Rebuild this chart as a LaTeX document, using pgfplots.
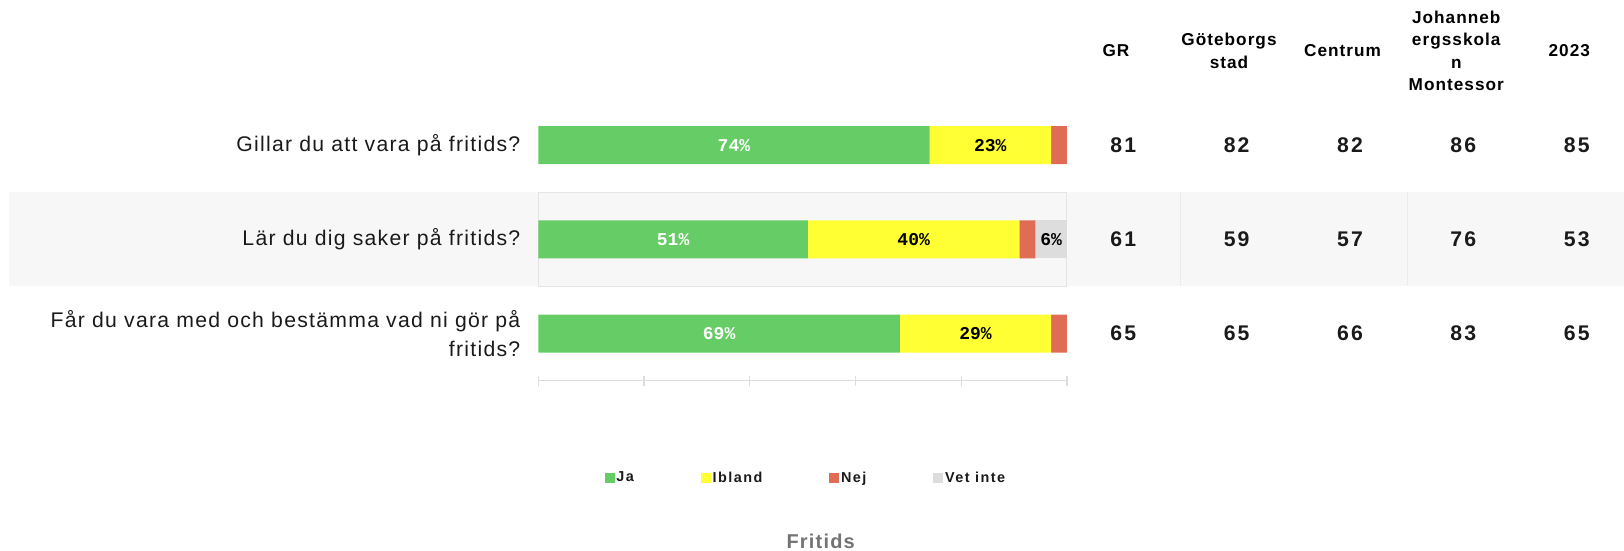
\documentclass[border=0pt]{standalone}
\usepackage{fontspec}
\setmainfont{Liberation Sans}
\newfontfamily\labfont[LetterSpace=6]{Liberation Sans}
\newfontfamily\hdrfont[LetterSpace=6]{Liberation Sans}
\newfontfamily\valfont[LetterSpace=10]{Liberation Sans}
\newfontfamily\pctfont{Liberation Mono}
\newfontfamily\legfont[LetterSpace=10]{Liberation Sans}
\newfontfamily\ttlfont[LetterSpace=6]{Liberation Sans}
\usepackage{pgfplots}
\usepackage{pgfplotstable}
\pgfplotsset{compat=1.18}
\definecolor{cJa}{HTML}{66CC66}
\definecolor{cIb}{HTML}{FFFF33}
\definecolor{cNej}{HTML}{E06C55}
\definecolor{cVet}{HTML}{DDDDDD}
\definecolor{bandc}{HTML}{F7F7F7}
\definecolor{bordc}{HTML}{E4E4E4}
\definecolor{tickc}{HTML}{DDDDDD}
\definecolor{ttlc}{HTML}{737373}
\definecolor{txtc}{HTML}{1A1A1A}

% bar lengths (ja ibland nej vet) and the printed labels (jaL ...)
\pgfplotstableread{
row ja ibland nej vet jaL iblandL nejL vetL
2 74 23 3 0 74 23 3 0
1 51 40 3 6 51 40 3 6
0 68.4 28.6 3.0 0 69 29 3 0
}\bardata

\pgfplotstableread{
x y v
110.65 2 81
132.10 2 82
153.53 2 82
174.96 2 86
196.41 2 85
110.65 1 61
132.10 1 59
153.53 1 57
174.96 1 76
196.41 1 53
110.65 0 65
132.10 0 65
153.53 0 66
174.96 0 83
196.41 0 65
}\tabdata

\newcommand\pctlab{\ifdim\pgfplotspointmeta pt>4pt \pgfplotspointmeta\%\fi}

\begin{document}
\begin{tikzpicture}
\useasboundingbox (-269.15pt,-85.15pt) rectangle (542.85pt,190.35pt);
% background: band, borders, table values, headers
\begin{axis}[
  at={(0pt,0pt)}, anchor=south west,
  scale only axis, width=264.35pt, height=141.3pt,
  xmin=0, xmax=100, ymin=-0.5, ymax=2.5,
  hide axis, clip=false,
]
\fill[bandc] (axis cs:-100.1,0.5) rectangle (axis cs:215,1.5);
\draw[bordc, line width=0.5pt] (axis cs:0,0.5) rectangle (axis cs:100,1.5);
\draw[bordc!70, line width=0.5pt] (axis cs:121.5,0.5) -- (axis cs:121.5,1.5);
\draw[bordc!70, line width=0.5pt] (axis cs:164.37,0.5) -- (axis cs:164.37,1.5);
\addplot[only marks, mark=none, nodes near coords, point meta=explicit symbolic,
  every node near coord/.append style={font=\valfont\bfseries\fontsize{10.6}{12}\selectfont, text=txtc, anchor=center, inner sep=0pt}]
  table[x=x, y=y, meta=v] \tabdata;
\begin{scope}[every node/.style={font=\hdrfont\bfseries\fontsize{8.6}{11.25}\selectfont, align=center, anchor=center, inner sep=0pt, text=black}]
\node at (axis cs:109.27,3) {GR};
\node at (axis cs:130.64,3) {Göteborgs\\stad};
\node at (axis cs:152.13,3) {Centrum};
\node at (axis cs:173.63,3) {Johanneb\\ergsskola\\n\\Montessor};
\node at (axis cs:195.0,3) {2023};
\end{scope}
\end{axis}
% stacked bars
\begin{axis}[
  at={(0pt,0pt)}, anchor=south west,
  scale only axis, width=264.35pt, height=141.3pt,
  xbar stacked, bar width=19pt,
  xmin=0, xmax=100, ymin=-0.5, ymax=2.5,
  axis x line*=bottom, axis y line*=left,
  y axis line style={draw=none},
  x axis line style={draw=tickc, line width=0.7pt},
  xtick={0,20,40,60,80,100}, xticklabels={},
  xtick style={draw=tickc, line width=0.7pt},
  tick align=center, major tick length=5pt,
  ytick={0,1,2},
  yticklabels={{Får du vara med och bestämma vad ni gör på\\fritids?},{Lär du dig saker på fritids?},{Gillar du att vara på fritids?}},
  ytick style={draw=none},
  yticklabel style={align=right, inner sep=0pt, xshift=-6.3pt, font=\labfont\fontsize{10.6}{14.5}\selectfont, text=txtc},
  point meta=explicit symbolic,
  nodes near coords={\pctlab},
  every node near coord/.append style={anchor=center, inner sep=0pt, font=\pctfont\bfseries\fontsize{9}{10}\selectfont},
  legend columns=4,
  legend style={at={(axis description cs:0.1248,-0.3454)}, anchor=west, draw=none, fill=none, inner sep=0pt,
    font=\legfont\bfseries\fontsize{7.2}{8}\selectfont, text=txtc,
    nodes={inner sep=0pt},
    /tikz/every odd column/.append style={column sep=0.9pt},
    /tikz/every even column/.append style={column sep=33.5pt}},
  xlabel={Fritids},
  xlabel style={at={(axis description cs:0.5341,-0.5931)}, anchor=base, inner sep=0pt, font=\ttlfont\bfseries\fontsize{10}{12}\selectfont, text=ttlc},
  clip=false,
]
\addplot[fill=cJa, draw=none,
  every node near coord/.append style={text=white},
  legend image code/.code={\fill[cJa] (0pt,-2.5pt) rectangle (5pt,2.5pt);}]
  table[x=ja, y=row, meta=jaL] \bardata;
\addlegendentry{Ja}
\addplot[fill=cIb, draw=none,
  every node near coord/.append style={text=black},
  legend image code/.code={\fill[cIb] (0pt,-2.5pt) rectangle (5pt,2.5pt);}]
  table[x=ibland, y=row, meta=iblandL] \bardata;
\addlegendentry{Ibland}
\addplot[fill=cNej, draw=none,
  every node near coord/.append style={text=black},
  legend image code/.code={\fill[cNej] (0pt,-2.5pt) rectangle (5pt,2.5pt);}]
  table[x=nej, y=row, meta=nejL] \bardata;
\addlegendentry{Nej}
\addplot[fill=cVet, draw=none,
  every node near coord/.append style={text=black},
  legend image code/.code={\fill[cVet] (0pt,-2.5pt) rectangle (5pt,2.5pt);}]
  table[x=vet, y=row, meta=vetL] \bardata;
\addlegendentry{Vet inte}
\end{axis}
\end{tikzpicture}
\end{document}
